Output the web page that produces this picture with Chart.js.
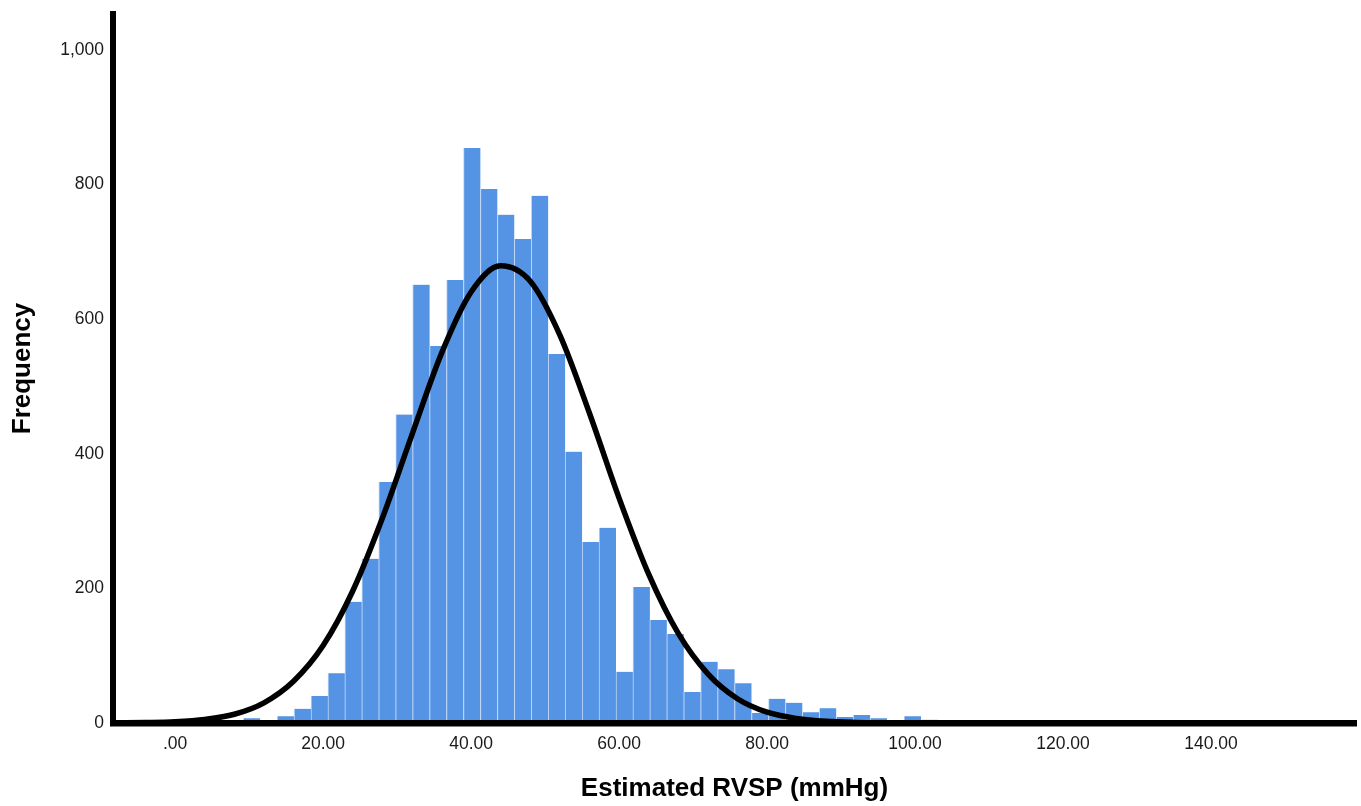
<!DOCTYPE html>
<html>
<head>
<meta charset="utf-8">
<script src="https://cdn.jsdelivr.net/npm/chart.js@4/dist/chart.umd.min.js"></script>
<style>
  html, body { margin: 0; padding: 0; background: #ffffff; }
  #wrap { width: 1361px; height: 806px; position: relative; }
</style>
</head>
<body>
<div id="wrap"><canvas id="c" width="1361" height="806"></canvas></div>
<script>
// Histogram bins: midpoints of each bin (mmHg) and their frequencies
const binMidpoints = [10.35, 12.64, 14.93, 17.22, 19.51, 21.80, 24.09, 26.38, 28.67, 30.96,
  33.25, 35.54, 37.83, 40.12, 42.41, 44.70, 46.99, 49.28, 51.57, 53.86,
  56.15, 58.44, 60.73, 63.02, 65.31, 67.60, 69.89, 72.18, 74.47, 76.76,
  79.05, 81.34, 83.63, 85.92, 88.21, 90.50, 92.79, 95.08, 97.37, 99.66, 101.95];
const frequencies = [7, 4, 10, 21, 40, 74, 180, 244, 358, 458,
  651, 560, 658, 854, 793, 755, 719, 783, 548, 403,
  269, 290, 76, 202, 153, 132, 46, 91, 80, 59,
  15, 36, 30, 16, 22, 9, 12, 7, 2, 10, 5];

// Normal curve overlay
const curveX = [-8, -4, 0, 4, 8, 12, 16, 20, 24, 28, 32, 36, 40, 44, 48, 52, 56, 60, 64, 68,
  72, 76, 80, 84, 88, 92, 96, 100, 104, 120, 140, 160];
const curveY = [0.2, 0.7, 1.9, 5.3, 13, 30, 62, 115, 196, 304, 428, 549, 640, 679, 656, 576, 460, 334, 221, 133,
  73, 36, 16, 6.7, 2.5, 0.9, 0.3, 0.1, 0, 0, 0, 0];

// Tick labels
const xTickValues = [0, 20, 40, 60, 80, 100, 120, 140];
const yTickValues = [0, 200, 400, 600, 800, 1000];

const xTitle = 'Estimated RVSP (mmHg)';
const yTitle = 'Frequency';

const barData = binMidpoints.map((x, i) => ({ x: x, y: frequencies[i] }));
const lineData = curveX.map((x, i) => ({ x: x, y: curveY[i] }));

const FONT = "'Liberation Sans', Arial, Helvetica, sans-serif";

new Chart(document.getElementById('c'), {
  type: 'bar',
  data: {
    datasets: [
      {
        type: 'line',
        data: lineData,
        borderColor: '#000000',
        borderWidth: 5.5,
        pointRadius: 0,
        cubicInterpolationMode: 'monotone',
        fill: false,
        order: 0
      },
      {
        type: 'bar',
        data: barData,
        backgroundColor: '#5594e4',
        borderColor: 'rgba(190,213,246,0.95)',
        borderWidth: { left: 1, right: 0, top: 0, bottom: 0 },
        borderSkipped: false,
        barPercentage: 1,
        categoryPercentage: 1,
        order: 1
      }
    ]
  },
  options: {
    responsive: false,
    animation: false,
    devicePixelRatio: 1,
    layout: { padding: { left: 0, top: 14, right: 5, bottom: 0 } },
    plugins: { legend: { display: false }, tooltip: { enabled: false } },
    scales: {
      x: {
        type: 'linear',
        min: -8.4,
        max: 159.6,
        offset: false,
        grid: { display: false, drawTicks: false },
        border: { display: true, color: '#000000', width: 6.5, z: 1 },
        afterBuildTicks: (s) => { s.ticks = xTickValues.map(v => ({ value: v })); },
        afterFit: (s) => { s.height = 83; s.paddingLeft = 0; s.paddingRight = 0; },
        ticks: {
          padding: 11,
          color: '#1a1a1a',
          font: { family: FONT, size: 17.5 },
          maxRotation: 0,
          autoSkip: false,
          callback: (v) => v === 0 ? '.00' : v.toFixed(2)
        },
        title: {
          display: true,
          text: xTitle,
          color: '#000000',
          font: { family: FONT, size: 26, weight: 'bold' },
          padding: { top: 0, bottom: 2 }
        }
      },
      y: {
        type: 'linear',
        min: 0,
        max: 1053,
        grid: { display: false, drawTicks: false },
        border: { display: true, color: '#000000', width: 6, z: 1 },
        afterBuildTicks: (s) => { s.ticks = yTickValues.map(v => ({ value: v })); },
        afterFit: (s) => { s.width = 113; s.paddingTop = 0; s.paddingBottom = 0; },
        ticks: {
          padding: 9,
          color: '#1a1a1a',
          font: { family: FONT, size: 17.5 },
          callback: (v) => v.toLocaleString('en-US')
        },
        title: {
          display: true,
          text: yTitle,
          color: '#000000',
          font: { family: FONT, size: 26, weight: 'bold' },
          padding: { top: 7, bottom: 0 }
        }
      }
    }
  }
});
</script>
</body>
</html>
